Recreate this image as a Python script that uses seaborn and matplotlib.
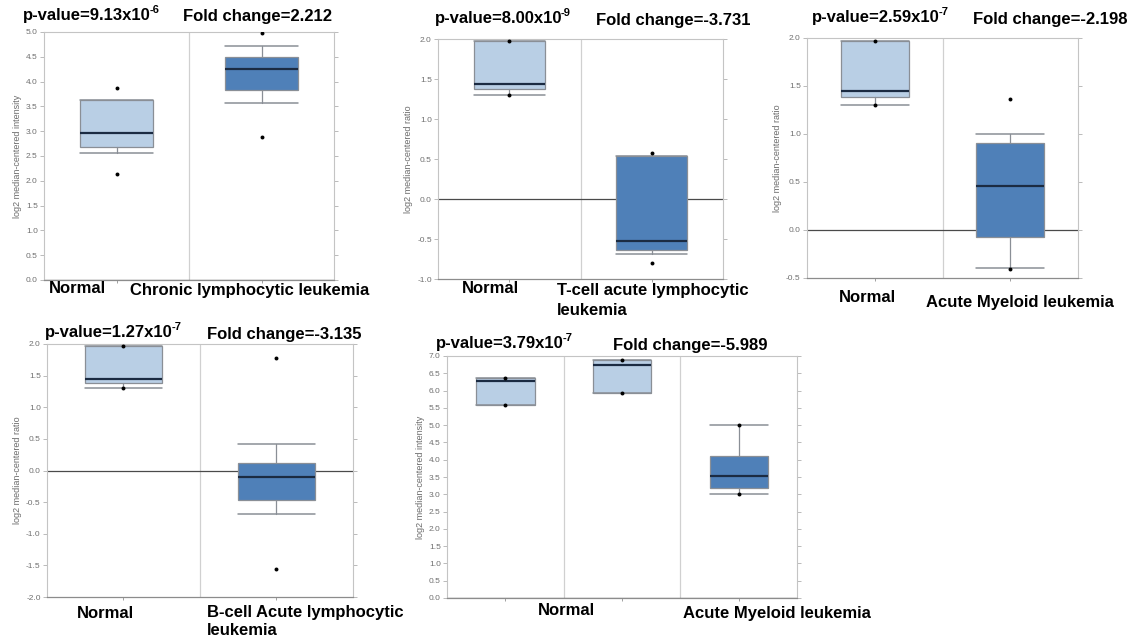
import matplotlib
matplotlib.use("Agg")
import matplotlib.pyplot as plt
from matplotlib.ticker import FormatStrFormatter, MultipleLocator
import numpy as np
import seaborn as sns

# ---------------------------------------------------------------------------
# Box statistics (25th/50th/75th percentiles, 10th/90th whiskers, min/max dots)
# ---------------------------------------------------------------------------

# A: chronic lymphocytic leukemia
cll_groups = ["Normal", "Chronic lymphocytic leukemia"]
cll_q1 = [2.68, 3.84]
cll_med = [2.97, 4.26]
cll_q3 = [3.62, 4.50]
cll_whislo = [2.56, 3.56]
cll_whishi = [3.62, 4.72]
cll_min = [2.13, 2.88]
cll_max = [3.88, 4.98]
cll_pvalue = ("9.13x10", "-6")
cll_fold = "2.212"

# B: T-cell acute lymphocytic leukemia
tall_groups = ["Normal", "T-cell acute lymphocytic", "leukemia"]
tall_q1 = [1.38, -0.64]
tall_med = [1.44, -0.52]
tall_q3 = [1.98, 0.54]
tall_whislo = [1.30, -0.69]
tall_whishi = [1.98, 0.54]
tall_min = [1.30, -0.80]
tall_max = [1.98, 0.57]
tall_pvalue = ("8.00x10", "-9")
tall_fold = "-3.731"

# C: acute myeloid leukemia (ratio)
aml_groups = ["Normal", "Acute Myeloid leukemia"]
aml_q1 = [1.39, -0.07]
aml_med = [1.45, 0.46]
aml_q3 = [1.97, 0.91]
aml_whislo = [1.30, -0.40]
aml_whishi = [1.97, 1.00]
aml_min = [1.30, -0.41]
aml_max = [1.97, 1.36]
aml_pvalue = ("2.59x10", "-7")
aml_fold = "-2.198"

# D: B-cell acute lymphocytic leukemia
ball_groups = ["Normal", "B-cell Acute lymphocytic", "leukemia"]
ball_q1 = [1.39, -0.46]
ball_med = [1.44, -0.10]
ball_q3 = [1.97, 0.12]
ball_whislo = [1.31, -0.68]
ball_whishi = [1.97, 0.42]
ball_min = [1.30, -1.55]
ball_max = [1.97, 1.78]
ball_pvalue = ("1.27x10", "-7")
ball_fold = "-3.135"

# E: acute myeloid leukemia (intensity), two normal groups
aml2_groups = ["Normal", "Acute Myeloid leukemia"]
aml2_q1 = [5.59, 5.93, 3.18]
aml2_med = [6.28, 6.75, 3.54]
aml2_q3 = [6.37, 6.88, 4.10]
aml2_whislo = [5.59, 5.93, 3.02]
aml2_whishi = [6.37, 6.88, 5.00]
aml2_min = [5.58, 5.92, 3.02]
aml2_max = [6.35, 6.89, 5.00]
aml2_pvalue = ("3.79x10", "-7")
aml2_fold = "-5.989"

# ---------------------------------------------------------------------------
sns.set_theme(style="white")
plt.rcParams["font.family"] = ["Liberation Sans", "DejaVu Sans"]
plt.rcParams["axes.unicode_minus"] = False

W, H = 1136, 640
fig = plt.figure(figsize=(W / 100, H / 100), dpi=100)
fig.patch.set_facecolor("white")
renderer = fig.canvas.get_renderer()

LIGHT = "#b9cfe5"
DARK = "#4f80b8"
MEDIAN = "#1b2b42"
EDGE = "#8a8f96"


def px_rect(x0, y0, x1, y1):
    return [x0 / W, 1 - y1 / H, (x1 - x0) / W, (y1 - y0) / H]


def label(x, y, s, size=12):
    return fig.text(x / W, 1 - y / H, s, ha="left", va="baseline",
                    fontsize=size, fontweight="bold", color="black")


def pvalue_label(x, y, pv):
    base, exp = pv
    t = label(x, y, "p-value=" + base)
    x_end = t.get_window_extent(renderer).x1
    fig.text((x_end - 1.5) / W, 1 - (y - 7) / H, exp, ha="left",
             va="baseline", fontsize=8, fontweight="bold", color="black")


def draw_panel(box, q1, med, q3, wlo, whi, vmin, vmax, fills, ylim, ylabel):
    ax = fig.add_axes(px_rect(*box))
    n = len(q1)
    pos = np.arange(n)
    stats = [dict(q1=q1[i], med=med[i], q3=q3[i], whislo=wlo[i],
                  whishi=whi[i], fliers=[]) for i in range(n)]
    parts = ax.bxp(stats, positions=pos, widths=0.5, capwidths=0.5,
                   patch_artist=True, showfliers=False,
                   boxprops=dict(edgecolor=EDGE, linewidth=0.9),
                   medianprops=dict(color=MEDIAN, linewidth=1.6),
                   whiskerprops=dict(color=EDGE, linewidth=0.9),
                   capprops=dict(color=EDGE, linewidth=1.1))
    for patch, c in zip(parts["boxes"], fills):
        patch.set_facecolor(c)

    # min / max markers
    sns.scatterplot(x=np.concatenate([pos, pos]),
                    y=np.concatenate([vmin, vmax]),
                    ax=ax, color="black", s=8, linewidth=0, zorder=6,
                    legend=False)

    for i in range(n - 1):
        ax.axvline(i + 0.5, color="#d0d0d0", lw=0.9, zorder=0)
    if ylim[0] <= 0 <= ylim[1]:
        ax.axhline(0, color="#4a4a4a", lw=0.9, zorder=1)

    ax.set_xlim(-0.5, n - 0.5)
    ax.set_ylim(*ylim)
    ax.yaxis.set_major_locator(MultipleLocator(0.5))
    ax.yaxis.set_major_formatter(FormatStrFormatter("%.1f"))
    ax.set_xticks(pos)
    ax.set_xticklabels([])
    ax.set_xlabel("")
    ax.set_ylabel(ylabel, fontsize=6.5, color="#6b6b6b", labelpad=3)
    ax.tick_params(axis="y", left=True, right=True, direction="out",
                   length=3, width=0.6, color="#b0b0b0",
                   labelsize=6, labelcolor="#707070", pad=1.5)
    ax.tick_params(axis="x", bottom=True, direction="out", length=2,
                   width=0.6, color="#909090")
    for side in ["top", "right", "left"]:
        ax.spines[side].set_color("#c4c4c4")
        ax.spines[side].set_linewidth(0.8)
    ax.spines["bottom"].set_color("#8c8c8c")
    ax.spines["bottom"].set_linewidth(0.9)
    ax.grid(False)
    return ax


# A
draw_panel((44, 32, 334, 280), cll_q1, cll_med, cll_q3, cll_whislo,
           cll_whishi, cll_min, cll_max, [LIGHT, DARK], (0, 5.0),
           "log2 median-centered intensity")
pvalue_label(23, 20, cll_pvalue)
label(183, 21, "Fold change=" + cll_fold)
label(49, 293, cll_groups[0])
label(130, 295, cll_groups[1])

# B
draw_panel((438, 39, 723, 279), tall_q1, tall_med, tall_q3, tall_whislo,
           tall_whishi, tall_min, tall_max, [LIGHT, DARK], (-1.0, 2.0),
           "log2 median-centered ratio")
pvalue_label(435, 23, tall_pvalue)
label(596, 25, "Fold change=" + tall_fold)
label(462, 293, tall_groups[0])
label(557, 295, tall_groups[1])
label(557, 315, tall_groups[2])

# C
draw_panel((807, 38, 1078, 278), aml_q1, aml_med, aml_q3, aml_whislo,
           aml_whishi, aml_min, aml_max, [LIGHT, DARK], (-0.5, 2.0),
           "log2 median-centered ratio")
pvalue_label(812, 22, aml_pvalue)
label(973, 24, "Fold change=" + aml_fold)
label(839, 302, aml_groups[0])
label(926, 307, aml_groups[1])

# D
draw_panel((47, 344, 353, 597), ball_q1, ball_med, ball_q3, ball_whislo,
           ball_whishi, ball_min, ball_max, [LIGHT, DARK], (-2.0, 2.0),
           "log2 median-centered ratio")
pvalue_label(45, 337, ball_pvalue)
label(207, 339, "Fold change=" + ball_fold)
label(77, 618, ball_groups[0])
label(207, 617, ball_groups[1])
label(207, 635, ball_groups[2])

# E
draw_panel((447, 356, 797, 598), aml2_q1, aml2_med, aml2_q3, aml2_whislo,
           aml2_whishi, aml2_min, aml2_max, [LIGHT, LIGHT, DARK], (0, 7.0),
           "log2 median-centered intensity")
pvalue_label(436, 348, aml2_pvalue)
label(613, 350, "Fold change=" + aml2_fold)
label(538, 615, aml2_groups[0])
label(683, 618, aml2_groups[1])

fig.savefig("out.png", dpi=100, facecolor="white")
